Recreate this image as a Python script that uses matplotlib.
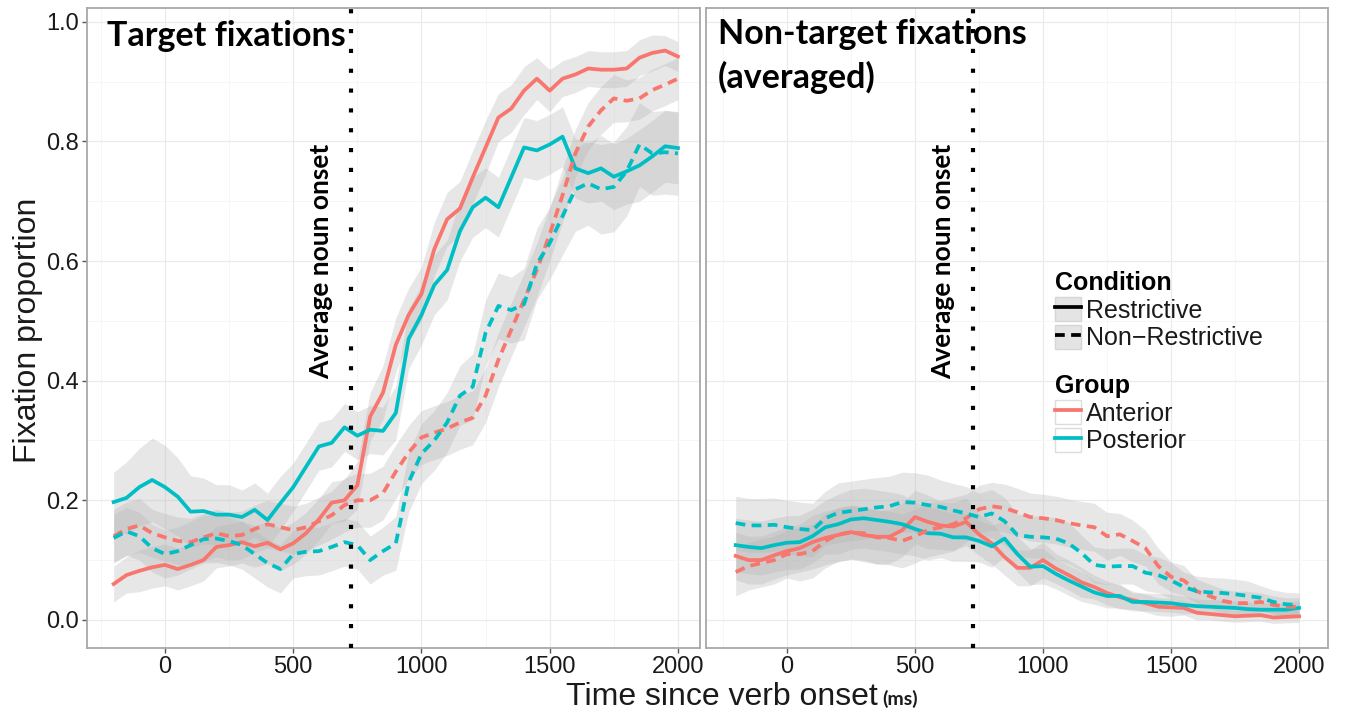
import matplotlib
matplotlib.use("Agg")
import matplotlib.pyplot as plt
from matplotlib.lines import Line2D
from matplotlib.patches import Patch
from matplotlib.ticker import MultipleLocator

# ---------------- data ----------------
time_ms = list(range(-200, 2001, 50))
noun_onset = 727

# Target fixations (left panel)
tgt_ant_restr = [0.060, 0.075, 0.082, 0.088, 0.092, 0.085, 0.092, 0.100, 0.122, 0.125,
                 0.130, 0.123, 0.129, 0.118, 0.128, 0.145, 0.168, 0.196, 0.200, 0.225,
                 0.340, 0.380, 0.460, 0.510, 0.545, 0.620, 0.670, 0.688, 0.740, 0.790,
                 0.840, 0.855, 0.885, 0.905, 0.885, 0.905, 0.912, 0.922, 0.920, 0.920,
                 0.922, 0.940, 0.948, 0.952, 0.942]
tgt_post_restr = [0.197, 0.204, 0.222, 0.234, 0.222, 0.206, 0.181, 0.182, 0.176, 0.176,
                  0.172, 0.184, 0.167, 0.195, 0.222, 0.256, 0.290, 0.296, 0.322, 0.308,
                  0.318, 0.316, 0.346, 0.470, 0.510, 0.560, 0.585, 0.650, 0.690, 0.706,
                  0.690, 0.740, 0.790, 0.785, 0.795, 0.808, 0.755, 0.747, 0.755, 0.741,
                  0.750, 0.760, 0.775, 0.792, 0.789]
tgt_ant_nonr = [0.140, 0.152, 0.158, 0.145, 0.138, 0.132, 0.130, 0.138, 0.145, 0.140,
                0.142, 0.152, 0.160, 0.155, 0.150, 0.155, 0.165, 0.175, 0.192, 0.200,
                0.200, 0.212, 0.248, 0.280, 0.305, 0.313, 0.320, 0.330, 0.338, 0.375,
                0.435, 0.485, 0.535, 0.585, 0.645, 0.710, 0.780, 0.825, 0.852, 0.872,
                0.868, 0.872, 0.886, 0.895, 0.905]
tgt_post_nonr = [0.137, 0.148, 0.140, 0.120, 0.110, 0.115, 0.125, 0.135, 0.136, 0.132,
                 0.125, 0.110, 0.095, 0.085, 0.110, 0.114, 0.115, 0.122, 0.130, 0.125,
                 0.100, 0.115, 0.128, 0.230, 0.278, 0.300, 0.330, 0.375, 0.390, 0.480,
                 0.525, 0.518, 0.528, 0.595, 0.630, 0.675, 0.720, 0.730, 0.720, 0.724,
                 0.750, 0.795, 0.780, 0.782, 0.780]

# ribbon half-widths (left panel)
tgt_ant_restr_ci = [0.030, 0.030, 0.035, 0.035, 0.035, 0.035, 0.035, 0.035, 0.035, 0.035,
                    0.035, 0.035, 0.035, 0.035, 0.035, 0.035, 0.035, 0.035, 0.035, 0.040,
                    0.040, 0.045, 0.045, 0.045, 0.045, 0.045, 0.045, 0.045, 0.045, 0.045,
                    0.040, 0.040, 0.040, 0.035, 0.035, 0.030, 0.030, 0.030, 0.030, 0.030,
                    0.030, 0.030, 0.030, 0.025, 0.025]
tgt_post_restr_ci = [0.050, 0.060, 0.065, 0.070, 0.070, 0.065, 0.060, 0.055, 0.050, 0.050,
                     0.045, 0.045, 0.045, 0.045, 0.040, 0.040, 0.040, 0.040, 0.040, 0.040,
                     0.040, 0.040, 0.045, 0.050, 0.050, 0.050, 0.050, 0.050, 0.050, 0.050,
                     0.050, 0.050, 0.050, 0.050, 0.050, 0.050, 0.050, 0.050, 0.055, 0.055,
                     0.055, 0.060, 0.060, 0.060, 0.060]
tgt_ant_nonr_ci = [0.045, 0.045, 0.045, 0.040, 0.040, 0.040, 0.040, 0.040, 0.040, 0.040,
                   0.040, 0.040, 0.040, 0.040, 0.040, 0.040, 0.040, 0.040, 0.045, 0.045,
                   0.045, 0.045, 0.045, 0.045, 0.045, 0.045, 0.045, 0.045, 0.045, 0.045,
                   0.045, 0.045, 0.045, 0.045, 0.045, 0.045, 0.040, 0.040, 0.040, 0.040,
                   0.035, 0.035, 0.035, 0.035, 0.035]
tgt_post_nonr_ci = [0.040, 0.040, 0.040, 0.040, 0.040, 0.040, 0.040, 0.040, 0.040, 0.040,
                    0.040, 0.040, 0.040, 0.040, 0.040, 0.040, 0.040, 0.040, 0.040, 0.040,
                    0.040, 0.040, 0.045, 0.050, 0.050, 0.050, 0.050, 0.050, 0.055, 0.055,
                    0.055, 0.055, 0.060, 0.060, 0.060, 0.065, 0.070, 0.070, 0.075, 0.075,
                    0.075, 0.070, 0.070, 0.070, 0.070]

# Non-target fixations (right panel)
nt_ant_restr = [0.107, 0.100, 0.100, 0.108, 0.115, 0.120, 0.130, 0.137, 0.142, 0.147,
                0.142, 0.139, 0.139, 0.150, 0.172, 0.164, 0.158, 0.156, 0.164, 0.143,
                0.128, 0.105, 0.087, 0.087, 0.100, 0.086, 0.075, 0.063, 0.055, 0.045,
                0.038, 0.033, 0.028, 0.022, 0.021, 0.020, 0.012, 0.010, 0.008, 0.006,
                0.007, 0.008, 0.004, 0.005, 0.006]
nt_post_restr = [0.125, 0.122, 0.120, 0.125, 0.129, 0.130, 0.140, 0.155, 0.160, 0.168,
                 0.170, 0.167, 0.164, 0.160, 0.152, 0.145, 0.144, 0.138, 0.138, 0.132,
                 0.123, 0.136, 0.110, 0.089, 0.090, 0.077, 0.066, 0.056, 0.046, 0.040,
                 0.040, 0.030, 0.030, 0.029, 0.028, 0.025, 0.023, 0.022, 0.021, 0.020,
                 0.018, 0.017, 0.017, 0.017, 0.020]
nt_ant_nonr = [0.080, 0.090, 0.095, 0.100, 0.110, 0.110, 0.115, 0.132, 0.143, 0.146,
               0.145, 0.138, 0.137, 0.132, 0.140, 0.150, 0.155, 0.160, 0.170, 0.185,
               0.190, 0.187, 0.180, 0.172, 0.170, 0.167, 0.162, 0.158, 0.155, 0.140,
               0.143, 0.132, 0.120, 0.090, 0.072, 0.066, 0.048, 0.040, 0.032, 0.028,
               0.028, 0.030, 0.025, 0.022, 0.022]
nt_post_nonr = [0.162, 0.158, 0.158, 0.159, 0.155, 0.152, 0.150, 0.170, 0.179, 0.182,
                0.185, 0.188, 0.190, 0.197, 0.196, 0.192, 0.189, 0.183, 0.178, 0.172,
                0.178, 0.165, 0.142, 0.139, 0.138, 0.136, 0.128, 0.112, 0.092, 0.089,
                0.090, 0.090, 0.079, 0.075, 0.066, 0.055, 0.048, 0.046, 0.045, 0.043,
                0.040, 0.037, 0.030, 0.026, 0.025]

nt_ant_restr_ci = [0.040, 0.040, 0.040, 0.040, 0.040, 0.040, 0.045, 0.045, 0.045, 0.045,
                   0.045, 0.045, 0.045, 0.045, 0.045, 0.045, 0.040, 0.040, 0.040, 0.035,
                   0.035, 0.030, 0.030, 0.030, 0.030, 0.025, 0.025, 0.025, 0.020, 0.020,
                   0.020, 0.015, 0.015, 0.015, 0.015, 0.012, 0.012, 0.010, 0.010, 0.010,
                   0.010, 0.010, 0.010, 0.010, 0.010]
nt_post_restr_ci = [0.045, 0.045, 0.045, 0.045, 0.045, 0.045, 0.045, 0.045, 0.050, 0.050,
                    0.050, 0.050, 0.050, 0.050, 0.045, 0.045, 0.040, 0.040, 0.040, 0.035,
                    0.035, 0.030, 0.030, 0.030, 0.030, 0.025, 0.025, 0.025, 0.020, 0.020,
                    0.020, 0.015, 0.015, 0.015, 0.015, 0.015, 0.012, 0.012, 0.012, 0.012,
                    0.012, 0.012, 0.012, 0.012, 0.012]
nt_ant_nonr_ci = [0.040, 0.040, 0.040, 0.040, 0.040, 0.045, 0.045, 0.045, 0.045, 0.045,
                  0.045, 0.045, 0.045, 0.045, 0.045, 0.045, 0.045, 0.045, 0.040, 0.040,
                  0.040, 0.040, 0.040, 0.040, 0.040, 0.040, 0.040, 0.040, 0.040, 0.040,
                  0.035, 0.035, 0.030, 0.030, 0.025, 0.025, 0.020, 0.020, 0.020, 0.020,
                  0.020, 0.015, 0.015, 0.015, 0.015]
nt_post_nonr_ci = [0.045, 0.045, 0.045, 0.045, 0.045, 0.045, 0.045, 0.045, 0.050, 0.050,
                   0.050, 0.050, 0.050, 0.050, 0.050, 0.050, 0.045, 0.045, 0.045, 0.040,
                   0.040, 0.040, 0.035, 0.035, 0.035, 0.035, 0.035, 0.030, 0.030, 0.030,
                   0.030, 0.030, 0.030, 0.030, 0.030, 0.025, 0.025, 0.025, 0.025, 0.025,
                   0.025, 0.020, 0.020, 0.020, 0.020]

group_names = ["Anterior", "Posterior"]
condition_names = ["Restrictive", "Non\u2212Restrictive"]
y_ticks = [0.0, 0.2, 0.4, 0.6, 0.8, 1.0]
x_ticks = [0, 500, 1000, 1500, 2000]

# ---------------- style ----------------
RED = "#F8766D"
CYAN = "#00BFC4"
LW = 2.7
DASH = (0, (2.6, 1.7))
SANS = ["Liberation Sans", "DejaVu Sans"]
TITLEFONT = ["Lato", "DejaVu Sans"]
plt.rcParams["font.family"] = SANS

fig = plt.figure(figsize=(13.45, 7.13), dpi=100)
W, H = 1345.0, 713.0


def px_axes(l, t, r, b):
    return fig.add_axes([l / W, 1 - b / H, (r - l) / W, (b - t) / H])


axL = px_axes(87, 7.5, 700, 648)
axR = px_axes(706, 7.5, 1328, 648)


def panel(ax, series, cis, xlim):
    ax.set_facecolor("white")
    for s, c in zip(series, cis):
        lo = [v - e for v, e in zip(s[0], c)]
        hi = [v + e for v, e in zip(s[0], c)]
        ax.fill_between(time_ms, lo, hi, color="#B5B5B5", alpha=0.32, lw=0, zorder=2)
    for s, c in zip(series, cis):
        vals, col, ls = s
        ax.plot(time_ms, vals, color=col, lw=LW, linestyle=ls, zorder=3,
                solid_joinstyle="round")
    ax.axvline(noun_onset, color="black", lw=3.0, linestyle=(0, (1, 3.76)),
               dash_capstyle="butt", zorder=4)
    ax.set_xlim(*xlim)
    ax.set_ylim(-0.047, 1.024)
    ax.set_xticks(x_ticks)
    ax.set_yticks(y_ticks)
    ax.xaxis.set_minor_locator(MultipleLocator(250))
    ax.yaxis.set_minor_locator(MultipleLocator(0.1))
    ax.grid(which="major", color="#EBEBEB", lw=0.9, zorder=0)
    ax.grid(which="minor", color="#F5F5F5", lw=0.6, zorder=0)
    ax.set_axisbelow(True)
    for sp in ax.spines.values():
        sp.set_color("#A8A8A8")
        sp.set_linewidth(1.3)
    ax.tick_params(which="major", length=3.5, width=1.0, color="#555555",
                   labelsize=17, labelcolor="#1A1A1A", pad=2.5)
    ax.tick_params(which="minor", length=0)
    ax.text(610, 0.60, "Average noun onset", rotation=90, ha="center", va="center",
            fontsize=19, fontweight="bold", family=TITLEFONT, color="black", zorder=5)


panel(axL,
      [(tgt_ant_restr, RED, "-"), (tgt_post_restr, CYAN, "-"),
       (tgt_ant_nonr, RED, DASH), (tgt_post_nonr, CYAN, DASH)],
      [tgt_ant_restr_ci, tgt_post_restr_ci, tgt_ant_nonr_ci, tgt_post_nonr_ci],
      (-304, 2086))
axL.set_yticklabels(["0.0", "0.2", "0.4", "0.6", "0.8", "1.0"])

panel(axR,
      [(nt_ant_restr, RED, "-"), (nt_post_restr, CYAN, "-"),
       (nt_ant_nonr, RED, DASH), (nt_post_nonr, CYAN, DASH)],
      [nt_ant_restr_ci, nt_post_restr_ci, nt_ant_nonr_ci, nt_post_nonr_ci],
      (-316, 2113))
axR.tick_params(axis="y", which="both", length=0, labelleft=False)

# panel titles
axL.text(0.033, 0.980, "Target fixations", transform=axL.transAxes, ha="left", va="top",
         fontsize=24.5, fontweight="bold", family=TITLEFONT, zorder=6)
axR.text(0.019, 0.984, "Non-target fixations\n(averaged)", transform=axR.transAxes,
         ha="left", va="top", fontsize=24.5, fontweight="bold", family=TITLEFONT,
         linespacing=1.42, zorder=6)

# axis labels
fig.text(28 / W, 1 - 330 / H, "Fixation proportion", rotation=90, ha="center",
         va="center", fontsize=23, color="#1A1A1A")
fig.text(878 / W, 1 - 705 / H, "Time since verb onset", ha="right", va="baseline",
         fontsize=23, color="#1A1A1A")
fig.text(882 / W, 1 - 705 / H, "(ms)", ha="left", va="baseline", fontsize=14,
         fontweight="bold", family=TITLEFONT, color="#1A1A1A")

# legends
cond_handles = [
    (Patch(facecolor="#E4E4E4", edgecolor="#D6D6D6"), Line2D([], [], color="black", lw=LW)),
    (Patch(facecolor="#E4E4E4", edgecolor="#D6D6D6"),
     Line2D([], [], color="black", lw=LW, linestyle=DASH)),
]
group_handles = [
    (Patch(facecolor="white", edgecolor="#DDDDDD"), Line2D([], [], color=RED, lw=LW)),
    (Patch(facecolor="white", edgecolor="#DDDDDD"), Line2D([], [], color=CYAN, lw=LW)),
]
common = dict(frameon=False, alignment="left", fontsize=18, handlelength=1.05,
              handleheight=1.1, handletextpad=0.18, labelspacing=0.08, borderpad=0,
              borderaxespad=0, loc="upper left",
              title_fontproperties={"weight": "bold", "size": 18, "family": SANS})
leg1 = fig.legend(cond_handles, condition_names, title="Condition",
                  bbox_to_anchor=(1055 / W, 1 - 271 / H), **common)
leg2 = fig.legend(group_handles, group_names, title="Group",
                  bbox_to_anchor=(1055 / W, 1 - 374 / H), **common)
for lg in (leg1, leg2):
    for t in lg.get_texts():
        t.set_color("#1A1A1A")

fig.savefig("out.png", dpi=100, facecolor="white")
